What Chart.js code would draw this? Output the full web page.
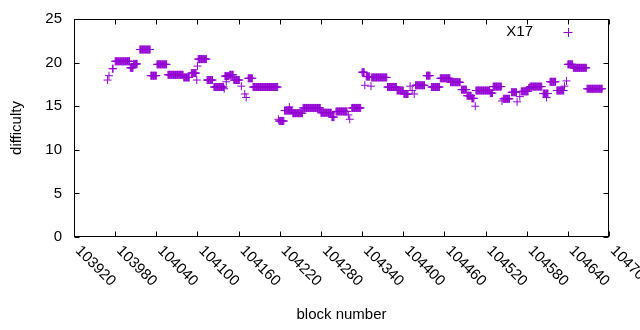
<!DOCTYPE html>
<html>
<head>
<meta charset="utf-8">
<script src="https://cdn.jsdelivr.net/npm/chart.js@4.4.0/dist/chart.umd.min.js"></script>
<style>
  html, body { margin: 0; padding: 0; background: #fff; }
</style>
</head>
<body>
<canvas id="chart" width="640" height="330"></canvas>
<script>
// runs of consecutive blocks that share one difficulty value
const runStart = [
  103969, 103971, 103976, 103980, 104002, 104007, 104016, 104032, 104041, 104057,
  104080, 104091, 104099, 104100, 104101, 104114, 104124, 104139, 104140, 104142,
  104147, 104153, 104164, 104169, 104171, 104174, 104181, 104218, 104219, 104227,
  104234, 104239, 104254, 104280, 104296, 104302, 104320, 104322, 104325, 104340,
  104344, 104346, 104353, 104354, 104377, 104391, 104401, 104410, 104413, 104416,
  104418, 104434, 104441, 104454, 104469, 104485, 104493, 104500, 104505, 104506,
  104527, 104531, 104544, 104546, 104558, 104566, 104570, 104572, 104583, 104585,
  104604, 104609, 104614, 104624, 104635, 104638, 104640, 104648, 104668
];
const runEnd = [
  103969, 103971, 103977, 104001, 104006, 104012, 104031, 104040, 104055, 104079,
  104088, 104098, 104099, 104100, 104113, 104122, 104138, 104139, 104146, 104142,
  104152, 104161, 104164, 104169, 104171, 104180, 104217, 104218, 104226, 104238,
  104234, 104253, 104279, 104295, 104299, 104318, 104320, 104322, 104338, 104343,
  104344, 104351, 104353, 104376, 104390, 104400, 104407, 104410, 104413, 104416,
  104431, 104439, 104453, 104468, 104483, 104492, 104499, 104503, 104505, 104526,
  104530, 104543, 104544, 104555, 104565, 104566, 104570, 104582, 104584, 104602,
  104611, 104609, 104622, 104634, 104635, 104638, 104647, 104667, 104690
];
const runDifficulty = [
  18.0, 18.5, 19.3, 20.15, 19.4, 19.85, 21.5, 18.5, 19.8, 18.6,
  18.3, 18.8, 18.0, 19.6, 20.4, 18.0, 17.2, 17.0, 18.45, 17.8,
  18.6, 18.0, 17.3, 16.4, 16.0, 18.2, 17.2, 13.5, 13.3, 14.5,
  14.9, 14.2, 14.8, 14.25, 13.75, 14.4, 14.0, 13.5, 14.8, 18.9,
  17.4, 18.4, 17.3, 18.3, 17.2, 16.8, 16.4, 17.3, 16.8, 16.4,
  17.4, 18.5, 17.2, 18.2, 17.75, 16.9, 16.2, 15.9, 15.0, 16.8,
  16.5, 17.25, 15.6, 15.85, 16.6, 15.5, 16.1, 16.7, 17.1, 17.25,
  16.45, 16.0, 17.8, 16.8, 17.3, 17.9, 19.8, 19.4, 17.0
];

const xTicks = [103920, 103980, 104040, 104100, 104160, 104220, 104280,
                104340, 104400, 104460, 104520, 104580, 104640, 104700];
const yTicks = [0, 5, 10, 15, 20, 25];
const seriesName = 'X17';
const xTitle = 'block number';
const yTitle = 'difficulty';

const purple = '#9400d3';
const font = '15px "Liberation Sans", Arial, sans-serif';

const points = [];
for (let i = 0; i < runStart.length; i++) {
  for (let b = runStart[i]; b <= runEnd[i]; b++) {
    points.push({ x: b, y: runDifficulty[i] });
  }
}

// gnuplot-like frame: border, inward mirrored ticks, rotated labels, key
const frame = {
  id: 'frame',
  afterDatasetsDraw(chart) {
    const ctx = chart.ctx;
    const a = chart.chartArea;
    const xs = chart.scales.x, ys = chart.scales.y;
    const L = Math.round(a.left) + 0.5, R = Math.round(a.right) - 0.5;
    const T = Math.round(a.top) + 0.5, B = Math.round(a.bottom) - 0.5;
    ctx.save();
    ctx.strokeStyle = '#000';
    ctx.lineWidth = 1;
    ctx.strokeRect(L, T, R - L, B - T);

    ctx.beginPath();
    xTicks.forEach(v => {
      const px = Math.round(xs.getPixelForValue(v)) + 0.5;
      ctx.moveTo(px, B); ctx.lineTo(px, B - 5);
      ctx.moveTo(px, T); ctx.lineTo(px, T + 5);
    });
    yTicks.forEach(v => {
      const py = Math.round(ys.getPixelForValue(v)) + 0.5;
      ctx.moveTo(L, py); ctx.lineTo(L + 5, py);
      ctx.moveTo(R, py); ctx.lineTo(R - 5, py);
    });
    ctx.stroke();

    ctx.fillStyle = '#000';
    ctx.font = font;
    ctx.textAlign = 'right';
    ctx.textBaseline = 'middle';
    yTicks.forEach(v => {
      ctx.fillText(String(v), a.left - 12, ys.getPixelForValue(v));
    });

    ctx.textAlign = 'left';
    ctx.textBaseline = 'top';
    xTicks.forEach(v => {
      ctx.save();
      ctx.translate(xs.getPixelForValue(v) + 9, a.bottom + 6);
      ctx.rotate(Math.PI / 4);
      ctx.fillText(String(v), 0, 0);
      ctx.restore();
    });

    ctx.textAlign = 'center';
    ctx.textBaseline = 'middle';
    ctx.fillText(xTitle, (a.left + a.right) / 2, 315);
    ctx.save();
    ctx.translate(17, (a.top + a.bottom) / 2);
    ctx.rotate(-Math.PI / 2);
    ctx.fillText(yTitle, 0, 0);
    ctx.restore();

    // key
    ctx.textAlign = 'right';
    ctx.fillText(seriesName, 533, 32);
    ctx.strokeStyle = purple;
    ctx.beginPath();
    ctx.moveTo(563.5, 32.5); ctx.lineTo(572.5, 32.5);
    ctx.moveTo(568.5, 28); ctx.lineTo(568.5, 37);
    ctx.stroke();
    ctx.restore();
  }
};

const ctx = document.getElementById('chart').getContext('2d');
const myChart = new Chart(ctx, {
  type: 'scatter',
  data: {
    datasets: [{
      label: seriesName,
      data: points,
      pointStyle: 'cross',
      pointRadius: 4,
      pointHoverRadius: 4,
      borderColor: purple,
      backgroundColor: purple,
      borderWidth: 1
    }]
  },
  options: {
    responsive: false,
    animation: false,
    layout: { padding: { left: 74, right: 31, top: 19, bottom: 93 } },
    plugins: { legend: { display: false }, tooltip: { enabled: false } },
    scales: {
      x: { type: 'linear', min: 103920, max: 104700, display: false },
      y: { type: 'linear', min: 0, max: 25, display: false }
    }
  },
  plugins: [frame]
});
</script>
</body>
</html>
